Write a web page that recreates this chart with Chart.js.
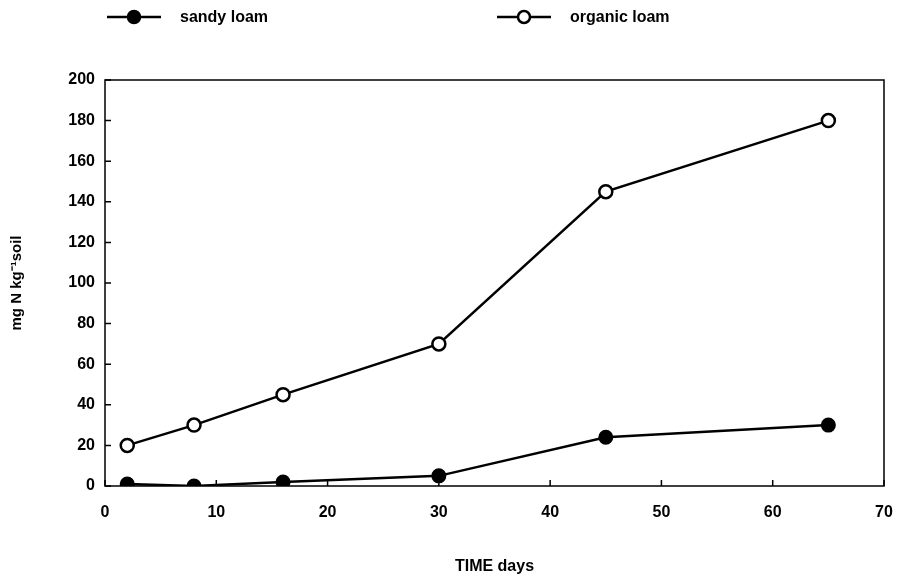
<!DOCTYPE html>
<html>
<head>
<meta charset="utf-8">
<script src="https://cdn.jsdelivr.net/npm/chart.js@4/dist/chart.umd.min.js"></script>
<style>
  html, body { margin: 0; padding: 0; background: #fff; }
  #wrap { width: 897px; height: 576px; position: relative; }
</style>
</head>
<body>
<div id="wrap"><canvas id="chart"></canvas></div>
<script>
const days = [2, 8, 16, 30, 45, 65];
const sandyLoam = [1, 0, 2, 5, 24, 30];
const organicLoam = [20, 30, 45, 70, 145, 180];
const xTicks = [0, 10, 20, 30, 40, 50, 60, 70];
const yTicks = [0, 20, 40, 60, 80, 100, 120, 140, 160, 180, 200];

const FONT = '"Liberation Sans", Arial, sans-serif';

// inward ticks, box around plot, and legend at top
const decorations = {
    id: 'decorations',
    afterDraw(chart) {
        const ctx = chart.ctx;
        const area = chart.chartArea;
        const x = chart.scales.x;
        const y = chart.scales.y;
        ctx.save();
        ctx.strokeStyle = '#000';
        ctx.lineWidth = 1.5;
        ctx.strokeRect(area.left, area.top, area.right - area.left, area.bottom - area.top);
        ctx.beginPath();
        xTicks.forEach(v => {
            const px = x.getPixelForValue(v);
            ctx.moveTo(px, area.bottom);
            ctx.lineTo(px, area.bottom - 6);
        });
        yTicks.forEach(v => {
            const py = y.getPixelForValue(v);
            ctx.moveTo(area.left, py);
            ctx.lineTo(area.left + 6, py);
        });
        ctx.stroke();

        // legend
        const items = [
            { label: 'sandy loam', x: 107, fill: '#000' },
            { label: 'organic loam', x: 497, fill: '#fff' }
        ];
        ctx.font = 'bold 16px ' + FONT;
        ctx.textBaseline = 'middle';
        items.forEach(it => {
            const ly = 17;
            ctx.lineWidth = 2.5;
            ctx.beginPath();
            ctx.moveTo(it.x, ly);
            ctx.lineTo(it.x + 54, ly);
            ctx.stroke();
            ctx.beginPath();
            ctx.arc(it.x + 27, ly, 6, 0, Math.PI * 2);
            ctx.fillStyle = it.fill;
            ctx.fill();
            ctx.stroke();
            ctx.fillStyle = '#000';
            ctx.fillText(it.label, it.x + 73, ly + 1);
        });
        ctx.restore();
    }
};

new Chart(document.getElementById('chart'), {
    type: 'line',
    data: {
        datasets: [
            {
                label: 'sandy loam',
                data: days.map((d, i) => ({ x: d, y: sandyLoam[i] })),
                borderColor: '#000',
                backgroundColor: '#000',
                borderWidth: 2.5,
                pointRadius: 6.5,
                pointBorderWidth: 2,
                pointBorderColor: '#000',
                pointBackgroundColor: '#000',
                tension: 0
            },
            {
                label: 'organic loam',
                data: days.map((d, i) => ({ x: d, y: organicLoam[i] })),
                borderColor: '#000',
                backgroundColor: '#fff',
                borderWidth: 2.5,
                pointRadius: 6.5,
                pointBorderWidth: 2.5,
                pointBorderColor: '#000',
                pointBackgroundColor: '#fff',
                tension: 0
            }
        ]
    },
    options: {
        responsive: true,
        maintainAspectRatio: false,
        animation: false,
        layout: { padding: { top: 80, right: 13, left: 0, bottom: 0 } },
        plugins: {
            legend: { display: false },
            tooltip: { enabled: false }
        },
        scales: {
            x: {
                type: 'linear',
                min: 0,
                max: 70,
                afterBuildTicks: s => { s.ticks = xTicks.map(v => ({ value: v })); },
                afterFit: s => {
                    s.height = 90;
                    s.paddingLeft = 0;
                    s.paddingRight = 0;
                },
                grid: { display: false, drawTicks: false },
                border: { display: false },
                ticks: {
                    color: '#000',
                    padding: 17,
                    font: { family: FONT, size: 16, weight: 'bold' }
                },
                title: {
                    display: true,
                    text: 'TIME days',
                    color: '#000',
                    padding: { top: 4, bottom: 0 },
                    font: { family: FONT, size: 16, weight: 'bold' }
                }
            },
            y: {
                min: 0,
                max: 200,
                afterBuildTicks: s => { s.ticks = yTicks.map(v => ({ value: v })); },
                afterFit: s => {
                    s.width = 105;
                    s.paddingTop = 0;
                    s.paddingBottom = 0;
                },
                grid: { display: false, drawTicks: false },
                border: { display: false },
                ticks: {
                    color: '#000',
                    padding: 10,
                    font: { family: FONT, size: 16, weight: 'bold' }
                },
                title: {
                    display: true,
                    text: 'mg N kg\u207B\u00B9soil',
                    color: '#000',
                    padding: { top: 8, bottom: 20 },
                    font: { family: FONT, size: 15, weight: 'bold' }
                }
            }
        }
    },
    plugins: [decorations]
});
</script>
</body>
</html>
